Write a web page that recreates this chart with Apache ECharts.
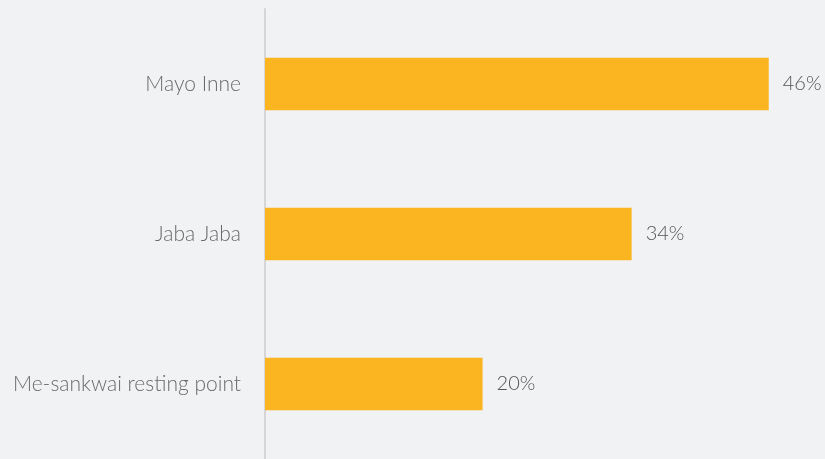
<!DOCTYPE html>
<html>
<head>
<meta charset="utf-8">
<script src="https://cdn.jsdelivr.net/npm/echarts@6/dist/echarts.min.js"></script>
<style>
html,body{margin:0;padding:0;background:#f1f2f4;}
#c{width:825px;height:459px;}
</style>
</head>
<body>
<div id="c"></div>
<script>
const categories = ['Me-sankwai resting point', 'Jaba Jaba', 'Mayo Inne'];
const values = [20.0, 33.7, 46.3];

const chart = echarts.init(document.getElementById('c'), null, {renderer: 'canvas'});
chart.setOption({
  backgroundColor: '#f1f2f4',
  animation: false,
  grid: {left: 265, right: 16, top: 9, height: 452},
  xAxis: {
    type: 'value', min: 0, max: 50,
    show: false
  },
  yAxis: {
    type: 'category',
    data: categories,
    axisLine: {show: true, lineStyle: {color: '#d6d6d8', width: 2}},
    axisTick: {show: false},
    axisLabel: {
      margin: 24,
      color: '#6a6a6a',
      fontFamily: 'Lato',
      fontWeight: 300,
      fontSize: 21,
      padding: [3, 0, 0, 0]
    }
  },
  series: [{
    type: 'bar',
    data: values,
    barWidth: '35%',
    itemStyle: {color: '#fbb520'},
    label: {
      show: true,
      position: 'right',
      distance: 14,
      color: '#555555',
      fontFamily: 'Lato',
      fontWeight: 300,
      fontSize: 20,
      padding: [3, 0, 0, 0],
      formatter: p => Math.round(p.value) + '%'
    }
  }]
});
</script>
</body>
</html>
